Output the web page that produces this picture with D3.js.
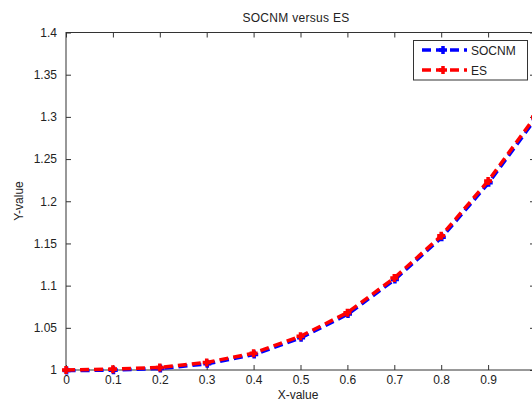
<!DOCTYPE html>
<html><head><meta charset="utf-8">
<script src="https://cdn.jsdelivr.net/npm/d3@7"></script>
<style>body{margin:0;background:#fff}svg{display:block}text{font-family:"Liberation Sans",Arial,sans-serif;fill:#222}</style>
</head><body><svg id="c" width="532" height="402"></svg>
<script>
const xValues = [0, 0.1, 0.2, 0.3, 0.4, 0.5, 0.6, 0.7, 0.8, 0.9, 1.0];
const socnm = [1, 1.0005, 1.0025, 1.008, 1.019, 1.039, 1.067, 1.108, 1.158, 1.2225, 1.2985];
const es = [1, 1.001, 1.003, 1.009, 1.020, 1.040, 1.068, 1.109, 1.159, 1.224, 1.300];
const xTicks = [0, 0.1, 0.2, 0.3, 0.4, 0.5, 0.6, 0.7, 0.8, 0.9];
const yTicks = [1, 1.05, 1.1, 1.15, 1.2, 1.25, 1.3, 1.35, 1.4];
const seriesNames = ["SOCNM", "ES"];
const seriesColors = ["#0000ff", "#ff0000"];

const svg = d3.select("#c");
const L = 66, R = 535, T = 32.5, B = 370;
const x = d3.scaleLinear().domain([0, 1]).range([L, R]);
const y = d3.scaleLinear().domain([1, 1.4]).range([B, T]);
const FS = 12;

svg.append("rect").attr("x", L).attr("y", T).attr("width", R - L).attr("height", B - T)
  .attr("fill", "none").attr("stroke", "#333").attr("stroke-width", 1);

const fmt = d => String(+d.toFixed(2));
const xa = svg.append("g").attr("transform", `translate(0,${B})`)
  .call(d3.axisBottom(x).tickValues(xTicks).tickSize(-5).tickPadding(5).tickFormat(fmt));
const xt = svg.append("g").attr("transform", `translate(0,${T})`)
  .call(d3.axisTop(x).tickValues(xTicks).tickSize(-5).tickFormat(""));
const ya = svg.append("g").attr("transform", `translate(${L},0)`)
  .call(d3.axisLeft(y).tickValues(yTicks).tickSize(-5).tickPadding(9).tickFormat(fmt));
const yr = svg.append("g").attr("transform", `translate(${R},0)`)
  .call(d3.axisRight(y).tickValues(yTicks).tickSize(-5).tickFormat(""));
[xa, xt, ya, yr].forEach(g => {
  g.select(".domain").remove();
  g.selectAll(".tick line").attr("stroke", "#333");
  g.selectAll("text").attr("font-size", FS).attr("fill", "#222")
    .attr("font-family", '"Liberation Sans",Arial,sans-serif');
});

svg.append("text").attr("x", 296).attr("y", 22).attr("text-anchor", "middle")
  .attr("font-size", FS).attr("letter-spacing", 0.3).text("SOCNM versus ES");
svg.append("text").attr("x", 298).attr("y", 399).attr("text-anchor", "middle")
  .attr("font-size", FS).text("X-value");
svg.append("text").attr("transform", "translate(23,201) rotate(-90)").attr("text-anchor", "middle")
  .attr("font-size", FS).text("Y-value");

const line = d3.line().x(d => x(d[0])).y(d => y(d[1]));
const series = [socnm, es];
const plot = svg.append("g");
series.forEach((vals, i) => {
  const pts = xValues.map((xv, j) => [xv, vals[j]]);
  const off = i === 0 ? 0.6 : 0;
  const g = plot.append("g").attr("transform", `translate(${off},${off})`);
  g.append("path").datum(pts).attr("d", line).attr("fill", "none")
    .attr("stroke", seriesColors[i]).attr("stroke-width", 3.5).attr("stroke-dasharray", "9,5");
  g.selectAll("path.m").data(pts).enter().append("path").attr("class", "m")
    .attr("d", d => `M${x(d[0]) - 4},${y(d[1])}H${x(d[0]) + 4}M${x(d[0])},${y(d[1]) - 4}V${y(d[1]) + 4}`)
    .attr("stroke", seriesColors[i]).attr("stroke-width", 3.5).attr("fill", "none");
});

const lg = svg.append("g");
lg.append("rect").attr("x", 413.5).attr("y", 40.5).attr("width", 114).attr("height", 39.5)
  .attr("fill", "#fff").attr("stroke", "#333").attr("stroke-width", 1);
seriesNames.forEach((n, i) => {
  const cy = 50 + i * 20;
  lg.append("line").attr("x1", 422).attr("x2", 467).attr("y1", cy).attr("y2", cy)
    .attr("stroke", seriesColors[i]).attr("stroke-width", 3.5).attr("stroke-dasharray", "9,5");
  lg.append("path").attr("d", `M439,${cy}H447M443,${cy - 4}V${cy + 4}`)
    .attr("stroke", seriesColors[i]).attr("stroke-width", 3.5);
  lg.append("text").attr("x", 471).attr("y", cy + 4.5).attr("font-size", FS).text(n);
});
</script></body></html>
